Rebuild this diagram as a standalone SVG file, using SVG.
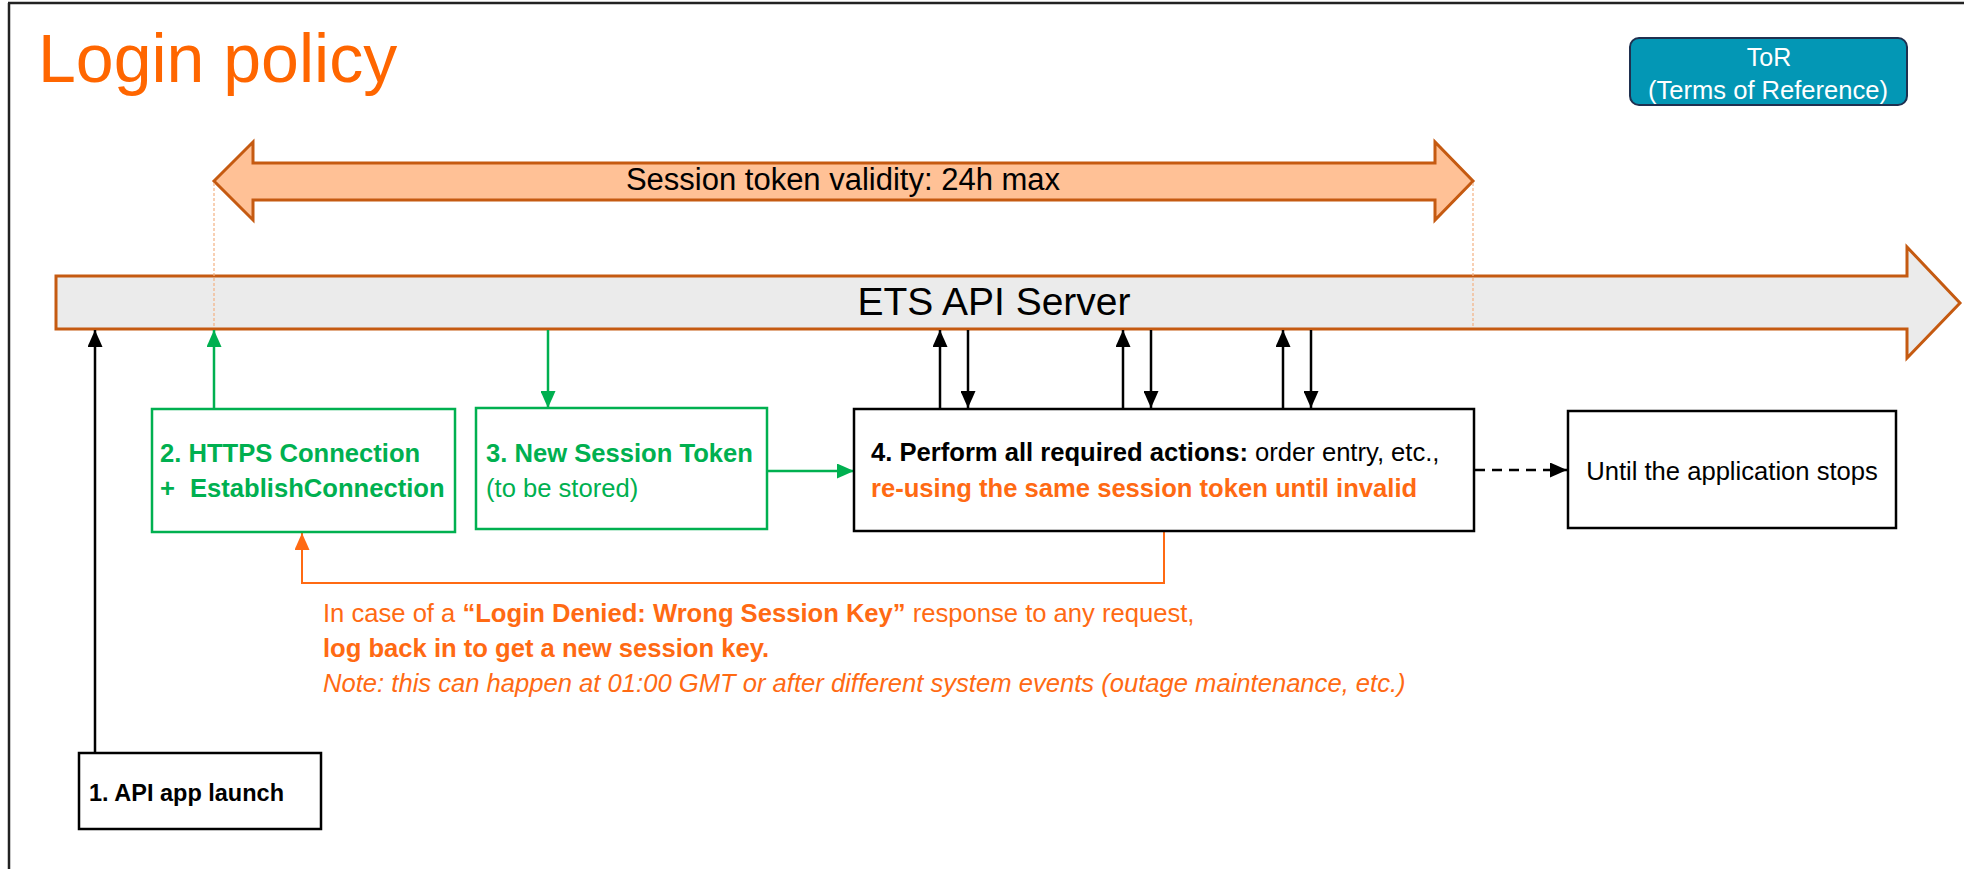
<svg xmlns="http://www.w3.org/2000/svg" width="1964" height="869" viewBox="0 0 1964 869">
<style>
text{font-family:"Liberation Sans",Arial,sans-serif;}
.b{font-weight:bold;}
.box{fill:#fff;stroke:#000;stroke-width:2.5;}
.gbox{fill:#fff;stroke:#00B050;stroke-width:2.5;}
.blk{stroke:#000;stroke-width:2.5;fill:none;}
.grn{stroke:#00B050;stroke-width:2.5;fill:none;}
.org{stroke:#FF6A13;stroke-width:2;fill:none;}
.guide{stroke:#F4B183;stroke-width:1.2;stroke-dasharray:3 2;fill:none;}
.t26{font-size:25.6px;}
.orgt{fill:#FF6A13;}
.grnt{fill:#00B050;}
</style>
<defs>
<marker id="ab" markerUnits="userSpaceOnUse" markerWidth="17" markerHeight="15" refX="17" refY="7.5" orient="auto"><path d="M0,0 L17,7.5 L0,15 z" fill="#000"/></marker>
<marker id="ag" markerUnits="userSpaceOnUse" markerWidth="17" markerHeight="15" refX="17" refY="7.5" orient="auto"><path d="M0,0 L17,7.5 L0,15 z" fill="#00B050"/></marker>
<marker id="ao" markerUnits="userSpaceOnUse" markerWidth="17" markerHeight="15" refX="17" refY="7.5" orient="auto"><path d="M0,0 L17,7.5 L0,15 z" fill="#FF6A13"/></marker>
</defs>
<rect x="0" y="0" width="1964" height="869" fill="#fff"/>
<g id="frame">
<line x1="8" y1="3" x2="1964" y2="3" stroke="#222" stroke-width="2.5"/>
<line x1="9" y1="3" x2="9" y2="869" stroke="#222" stroke-width="2.5"/>
</g>
<g id="title"><text x="38" y="82" font-size="68" fill="#FF6600">Login policy</text></g>
<g id="tor">
<rect x="1630" y="38" width="277" height="67" rx="9" fill="#0397B5" stroke="#1F3050" stroke-width="2"/>
<text x="1769" y="66" font-size="25" fill="#fff" text-anchor="middle">ToR</text>
<text x="1768" y="99" font-size="25" fill="#fff" text-anchor="middle" textLength="240" lengthAdjust="spacingAndGlyphs">(Terms of Reference)</text>
</g>
<g id="session-validity">
<polygon points="214,181 253,142 253,163 1435,163 1435,142 1473,181 1435,220 1435,200 253,200 253,220" fill="#FFC196" stroke="#C55A11" stroke-width="3" stroke-linejoin="miter"/>
<text x="843" y="190" font-size="31" fill="#000" text-anchor="middle">Session token validity: 24h max</text>
</g>
<g id="server">
<polygon points="56,276 1907,276 1907,247 1960,303 1907,358 1907,329 56,329" fill="#EBEBEB" stroke="#C55A11" stroke-width="3"/>
<text x="994" y="315" font-size="39" fill="#000" text-anchor="middle">ETS API Server</text>
</g>
<g id="guides">
<line class="guide" x1="214" y1="183" x2="214" y2="328"/>
<line class="guide" x1="1473" y1="183" x2="1473" y2="328"/>
</g>
<g id="connectors">
<line class="blk" x1="95" y1="753" x2="95" y2="330" marker-end="url(#ab)"/>
<line class="grn" x1="214" y1="409" x2="214" y2="330" marker-end="url(#ag)"/>
<line class="grn" x1="548" y1="330" x2="548" y2="408" marker-end="url(#ag)"/>
<line class="grn" x1="767" y1="471" x2="854" y2="471" marker-end="url(#ag)"/>
<line class="blk" x1="940" y1="409" x2="940" y2="330" marker-end="url(#ab)"/>
<line class="blk" x1="968" y1="330" x2="968" y2="408" marker-end="url(#ab)"/>
<line class="blk" x1="1123" y1="409" x2="1123" y2="330" marker-end="url(#ab)"/>
<line class="blk" x1="1151" y1="330" x2="1151" y2="408" marker-end="url(#ab)"/>
<line class="blk" x1="1283" y1="409" x2="1283" y2="330" marker-end="url(#ab)"/>
<line class="blk" x1="1311" y1="330" x2="1311" y2="408" marker-end="url(#ab)"/>
<line class="blk" x1="1475" y1="470" x2="1567" y2="470" stroke-dasharray="10 7" marker-end="url(#ab)"/>
<polyline class="org" points="1164,532 1164,583 302,583 302,533" marker-end="url(#ao)"/>
</g>
<g id="n1">
<rect class="box" x="79" y="753" width="242" height="76"/>
<text class="b" x="89" y="801" font-size="23.5">1. API app launch</text>
</g>
<g id="n2">
<rect class="gbox" x="152" y="409" width="303" height="123"/>
<text class="b t26 grnt" x="160" y="462">2. HTTPS Connection</text>
<text class="b t26 grnt" x="160" y="497">+<tspan x="190">EstablishConnection</tspan></text>
</g>
<g id="n3">
<rect class="gbox" x="476" y="408" width="291" height="121"/>
<text class="b t26 grnt" x="486" y="462">3. New Session Token</text>
<text class="t26 grnt" x="486" y="497">(to be stored)</text>
</g>
<g id="n4">
<rect class="box" x="854" y="409" width="620" height="122"/>
<text class="t26" x="871" y="461"><tspan class="b">4. Perform all required actions:</tspan> order entry, etc.,</text>
<text class="b t26 orgt" x="871" y="497">re-using the same session token until invalid</text>
</g>
<g id="n5">
<rect class="box" x="1568" y="411" width="328" height="117"/>
<text class="t26" x="1732" y="480" text-anchor="middle">Until the application stops</text>
</g>
<g id="note">
<text class="t26 orgt" x="323" y="622">In case of a <tspan class="b">“Login Denied: Wrong Session Key”</tspan> response to any request,</text>
<text class="b t26 orgt" x="323" y="657">log back in to get a new session key.</text>
<text class="t26 orgt" x="323" y="692" font-style="italic">Note: this can happen at 01:00 GMT or after different system events (outage maintenance, etc.)</text>
</g>
</svg>
